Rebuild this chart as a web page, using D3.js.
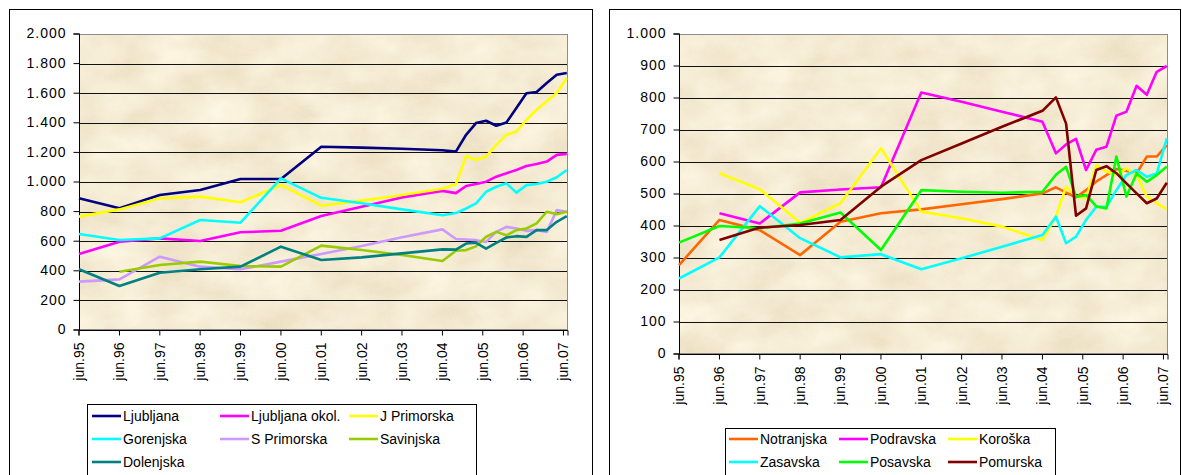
<!DOCTYPE html>
<html><head><meta charset="utf-8">
<script src="https://cdn.jsdelivr.net/npm/d3@7"></script>
<style>
html,body{margin:0;padding:0;background:#fff;}
svg{display:block;font-family:"Liberation Sans",Arial,sans-serif;}
</style></head>
<body><svg id="c" width="1182" height="475"></svg>
<script>
// ---- data ----
const dates = ["1995-06","1996-06","1997-06","1998-06","1999-06","2000-06","2001-06","2002-06","2003-06","2004-06",
  "2004-10","2005-01","2005-04","2005-07","2005-10","2006-01","2006-04","2006-07","2006-10","2007-01","2007-04","2007-07"];
const tickLabels = ["jun.95","jun.96","jun.97","jun.98","jun.99","jun.00","jun.01","jun.02","jun.03","jun.04","jun.05","jun.06","jun.07"];
const tickDates = ["1995-06","1996-06","1997-06","1998-06","1999-06","2000-06","2001-06","2002-06","2003-06","2004-06","2005-06","2006-06","2007-06"];

const leftNames = ["Ljubljana","Ljubljana okol.","J Primorska","Gorenjska","S Primorska","Savinjska","Dolenjska"];
const leftColors = ["#000080","#ff00ff","#ffff00","#00ffff","#cc99ff","#99cc00","#008080"];
const ljubljana  = [890,822,912,946,1020,1020,1238,1232,1225,1215,1205,1319,1398,1414,1380,1402,1500,1600,1608,1669,1725,1737];
const ljOkol     = [514,597,619,601,660,671,770,833,896,940,925,973,986,1002,1036,1059,1081,1108,1122,1138,1183,1190];
const jPrimorska = [766,815,890,901,863,980,840,874,912,955,986,1176,1149,1172,1251,1319,1341,1420,1488,1545,1601,1703];
const gorenjska  = [649,608,619,743,725,1025,893,856,815,775,790,821,855,934,968,991,928,979,986,1002,1032,1081];
const sPrimorska = [327,342,495,428,410,462,514,568,626,680,615,612,607,595,663,697,686,670,675,663,810,799];
const savinjska  = [null,394,439,462,432,428,570,540,507,466,535,540,565,630,663,640,675,686,720,799,783,799];
const dolenjska  = [410,297,387,410,428,563,473,491,518,545,543,584,589,550,589,625,634,629,675,675,731,770];
const leftSeries = [ljubljana,ljOkol,jPrimorska,gorenjska,sPrimorska,savinjska,dolenjska];
const leftTicks = [0,200,400,600,800,1000,1200,1400,1600,1800,2000];

const rightNames = ["Notranjska","Podravska","Koroška","Zasavska","Posavska","Pomurska"];
const rightColors = ["#ff6600","#ff00ff","#ffff00","#00ffff","#00ff00","#800000"];
const notranjska = [278,419,387,309,413,440,452,468,484,502,521,504,490,512,539,559,578,573,564,617,617,653];
const podravska  = [null,440,408,505,514,521,817,788,757,726,627,655,672,575,638,648,745,757,838,810,882,900];
const koroska    = [null,565,515,410,471,643,445,424,398,356,430,523,492,487,590,570,560,580,559,492,471,453];
const zasavska   = [236,302,462,362,302,312,265,299,335,372,429,346,367,419,460,460,512,559,575,554,564,674];
const posavska   = [348,400,393,408,442,325,512,507,504,507,560,585,491,497,461,455,617,492,564,538,559,586];
const pomurska   = [null,356,395,403,419,523,606,658,710,760,802,720,432,455,575,587,565,533,502,471,486,535];
const rightSeries = [notranjska,podravska,koroska,zasavska,posavska,pomurska];
const rightTicks = [0,100,200,300,400,500,600,700,800,900,1000];

// ---- drawing ----
const svg = d3.select("#c");
const parse = d3.timeParse("%Y-%m");
const loc = d3.formatLocale({decimal:",",thousands:".",grouping:[3],currency:["",""]});
const fmt = loc.format(",d");
const defs = svg.append("defs");

function chart(cfg){
  const g = svg.append("g");
  // outer frame
  g.append("rect").attr("x",cfg.fx+0.5).attr("y",9.5).attr("width",cfg.fw).attr("height",490)
    .attr("fill","#fff").attr("stroke","#000").attr("stroke-width",1);
  const x = d3.scaleTime().domain([parse("1995-06"), new Date(2007,6,12)]).range([cfg.x0,cfg.x1]);
  const y = d3.scaleLinear().domain([0,cfg.ymax]).range([cfg.y1,cfg.y0]);
  // texture
  const fid = "tex"+cfg.id;
  const f = defs.append("filter").attr("id",fid).attr("filterUnits","userSpaceOnUse")
    .attr("x",cfg.x0).attr("y",cfg.y0).attr("width",cfg.x1-cfg.x0).attr("height",cfg.y1-cfg.y0);
  f.append("feTurbulence").attr("type","fractalNoise").attr("baseFrequency","0.02 0.03")
    .attr("numOctaves",4).attr("seed",cfg.id==="L"?4:9).attr("result","n1");
  f.append("feColorMatrix").attr("in","n1").attr("type","matrix")
    .attr("values","0.2 0 0 0 0.81  0.24 0 0 0 0.71  0.3 0 0 0 0.5  0 0 0 0 1").attr("result","c1");
  f.append("feTurbulence").attr("type","fractalNoise").attr("baseFrequency","0.5")
    .attr("numOctaves",1).attr("seed",2).attr("result","n2");
  f.append("feColorMatrix").attr("in","n2").attr("type","matrix")
    .attr("values","0 0 0 0 0.99  0 0 0 0 0.93  0 0 0 0 0.8  0.45 0 0 0 -0.2").attr("result","c2");
  f.append("feComposite").attr("in","c2").attr("in2","c1").attr("operator","over");
  g.append("rect").attr("x",cfg.x0).attr("y",cfg.y0).attr("width",cfg.x1-cfg.x0).attr("height",cfg.y1-cfg.y0)
    .attr("fill","#e8d4ae").attr("filter",`url(#${fid})`);
  // gridlines
  g.append("g").selectAll("line").data(cfg.ticks.filter(v=>v>0 && v<cfg.ymax)).join("line")
    .attr("x1",cfg.x0).attr("x2",cfg.x1).attr("y1",d=>Math.round(y(d))+0.5).attr("y2",d=>Math.round(y(d))+0.5)
    .attr("stroke","#111").attr("stroke-width",1.2);
  // plot border (gray)
  g.append("rect").attr("x",cfg.x0+0.5).attr("y",cfg.y0+0.5).attr("width",cfg.x1-cfg.x0-1).attr("height",cfg.y1-cfg.y0-1)
    .attr("fill","none").attr("stroke","#8c8c8c").attr("stroke-width",1);
  // y axis
  const ya = g.append("g").attr("transform",`translate(${cfg.x0+0.5},0)`)
    .call(d3.axisLeft(y).tickValues(cfg.ticks).tickFormat(fmt).tickSize(6).tickPadding(7).offset(0));
  ya.select(".domain").attr("stroke","#000");
  ya.selectAll(".tick line").attr("stroke","#000");
  ya.selectAll("text").attr("font-size",14).attr("fill","#000").attr("letter-spacing","1px")
    .attr("font-family","Liberation Sans, Arial, sans-serif");
  // x axis
  const tv = tickDates.map(parse);
  const xa = g.append("g").attr("transform",`translate(0,${cfg.y1+0.5})`)
    .call(d3.axisBottom(x).tickValues(tv).tickFormat((d,i)=>tickLabels[i]).tickSize(5).offset(0));
  xa.select(".domain").attr("stroke","#000");
  xa.selectAll(".tick line").attr("stroke","#000");
  xa.selectAll("text").attr("font-size",14).attr("fill","#000").attr("font-family","Liberation Sans, Arial, sans-serif")
    .attr("text-anchor","end").attr("dy",null).attr("y",null)
    .attr("transform",`translate(0,${cfg.lab}) rotate(-90)`).attr("dominant-baseline","central");
  // lines
  const pts = dates.map(parse);
  const line = d3.line().defined(d=>d[1]!=null).x(d=>x(d[0])).y(d=>y(d[1]));
  cfg.series.forEach((s,i)=>{
    g.append("path").datum(s.map((v,j)=>[pts[j],v])).attr("d",line)
      .attr("fill","none").attr("stroke",cfg.colors[i]).attr("stroke-width",2.6).attr("stroke-linejoin","round");
  });
  // legend
  const lg = g.append("g");
  lg.append("rect").attr("x",cfg.lx+0.5).attr("y",cfg.ly+0.5).attr("width",cfg.lw).attr("height",100)
    .attr("fill","#fff").attr("stroke","#000").attr("stroke-width",1);
  cfg.names.forEach((n,i)=>{
    const cx = cfg.lcols[i%3], cy = cfg.lrows[Math.floor(i/3)];
    lg.append("line").attr("x1",cx).attr("x2",cx+29).attr("y1",cy).attr("y2",cy)
      .attr("stroke",cfg.colors[i]).attr("stroke-width",2.6);
    lg.append("text").attr("x",cx+31).attr("y",cy).attr("dominant-baseline","central")
      .attr("font-size",14).attr("fill","#000").text(n);
  });
}

chart({id:"L",fx:9,fw:583,x0:79,x1:568,y0:34,y1:330,ymax:2000,ticks:leftTicks,lab:12,
  series:leftSeries,colors:leftColors,names:leftNames,
  lx:87,ly:404,lw:389,lcols:[92,220,349],lrows:[416,439,462]});
chart({id:"R",fx:609,fw:571,x0:679,x1:1168,y0:34,y1:354,ymax:1000,ticks:rightTicks,lab:12,
  series:rightSeries,colors:rightColors,names:rightNames,
  lx:725,ly:428,lw:330,lcols:[729,839,948],lrows:[439,462]});
</script></body></html>
